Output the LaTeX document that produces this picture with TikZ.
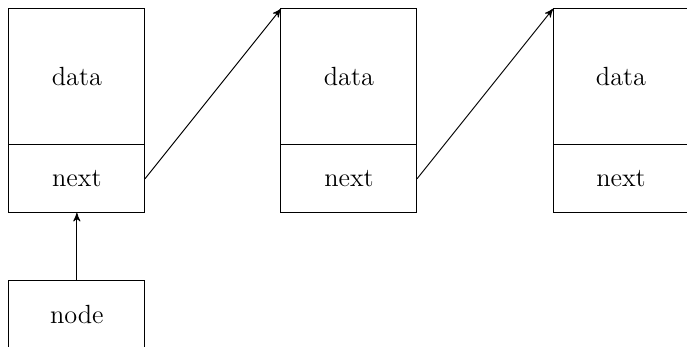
\documentclass[tikz,border=0pt]{standalone}
\usepackage{tikz}
\usetikzlibrary{arrows}
\usetikzlibrary{positioning}

\begin{document}
\begin{tikzpicture}[->,>=stealth',thin,
    databox/.style={shape=rectangle,draw=black,minimum width=2cm,minimum height=2cm,inner sep=0pt,outer sep=0pt,font=\fontsize{11}{13}\selectfont},
    nextbox/.style={shape=rectangle,draw=black,minimum width=2cm,minimum height=1cm,inner sep=0pt,outer sep=0pt,font=\fontsize{11}{13}\selectfont}]

            \useasboundingbox (-0.13,-4.97) rectangle (9.97,0.13);

            % List cells
            \node[databox] (D1) at (1,-1) {data};
            \node[nextbox,below=0pt of D1] (N1) {next};
            \node[databox] (D2) at (5,-1) {data};
            \node[nextbox,below=0pt of D2] (N2) {next};
            \node[databox] (D3) at (9,-1) {data};
            \node[nextbox,below=0pt of D3] (N3) {next};

            % Head pointer
            \node[nextbox] (H) at (1,-4.5) {node};

            % Arrows between cells
            \path (N1.east) edge (D2.north west);
            \path (N2.east) edge (D3.north west);
            \path (H) edge (N1);

        \end{tikzpicture}
\end{document}
